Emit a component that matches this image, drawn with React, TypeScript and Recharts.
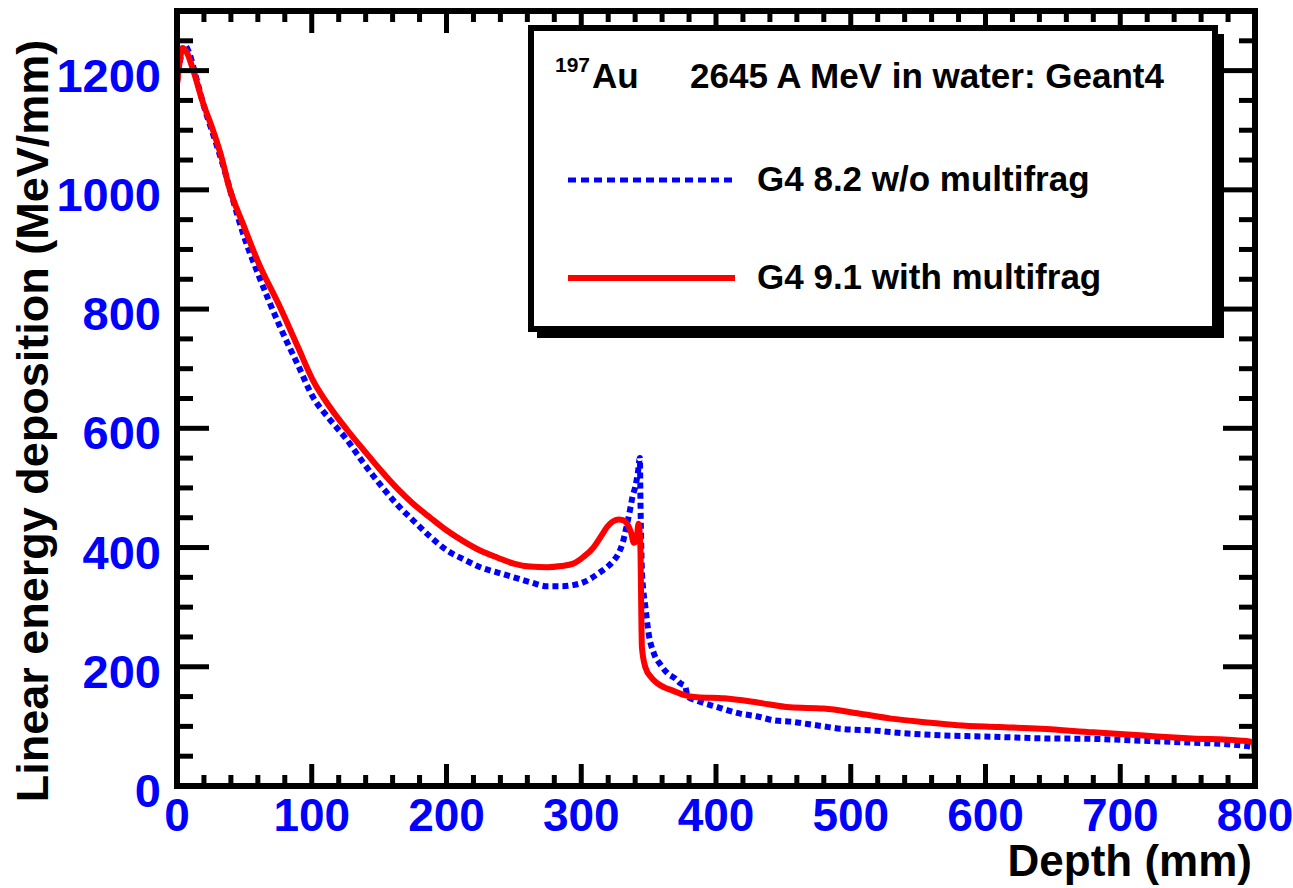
import { LineChart, Line, XAxis, YAxis } from "recharts";

const FONT = "'Liberation Sans', Arial, Helvetica, sans-serif";

const seriesNames = ["G4 8.2 w/o multifrag", "G4 9.1 with multifrag"];
const seriesColors = ["#0000ff", "#ff0000"];
const titleIon = "Au";
const titleMass = "197";
const titleText = "2645 A MeV in water: Geant4";
const xTitle = "Depth (mm)";
const yTitle = "Linear energy deposition (MeV/mm)";

// G4 8.2, no multifragmentation (blue dashed)
const depth82 = [
  0, 3, 6, 9, 14, 20, 28, 35, 40, 50, 60, 76.5, 90, 101, 113, 126, 138, 151,
  163, 175, 188, 200.5, 213, 225, 238, 250, 262, 275, 285, 294, 302, 307, 313,
  319, 324, 327.6, 331, 333, 336.5, 338, 340, 342, 343.5, 344, 345, 346, 347.6,
  350, 354, 359, 364, 370, 373.6, 377, 379, 386, 400, 418, 430, 443, 455, 468,
  480, 492.5, 517, 542, 567, 600, 641, 680, 715, 750, 790, 800,
];
const dose82 = [
  1180, 1225, 1242, 1230, 1190, 1140, 1085, 1035, 995, 920, 860, 770, 705, 652,
  616, 581, 543, 505, 473, 446, 418, 395, 380, 367, 358, 350, 342, 335, 335,
  337, 342, 348, 357, 367, 378, 390, 410, 429, 467, 485, 501, 525, 550, 470,
  362, 330, 300, 256, 222, 203, 189, 180, 172, 168, 150, 143, 133, 121.5, 117,
  110, 108, 104, 100, 96, 93, 88, 85, 83, 80, 79, 76, 73, 68, 65,
];

// G4 9.1, with multifragmentation (red solid)
const depth91 = [
  0, 2, 4, 7, 12, 19, 27, 33, 38, 50, 60, 76.5, 90, 101, 113, 126, 138, 151,
  163, 175, 188, 200, 213, 225, 238, 250, 262, 275, 285, 294, 302, 309, 315,
  319, 323, 327.6, 331, 334, 337, 339, 341, 342.5, 343.5, 344, 344.5, 345,
  347.6, 352, 356.5, 362, 368, 376, 386, 406, 431, 455, 480, 505, 530, 555, 579,
  610, 641, 680, 715, 750, 790, 799, 800,
];
const dose91 = [
  1176, 1215, 1238, 1232, 1201, 1148, 1098, 1055, 1010, 937, 880, 803, 735,
  680, 637, 598, 565, 530, 500, 474, 450, 429, 410, 395, 383, 373, 368, 367,
  369, 373, 385, 400, 420, 434, 443, 447, 446, 440, 425, 408, 412, 440, 420,
  390, 300, 233, 199, 182, 172, 165, 160, 153, 149, 147, 140, 132, 130, 122,
  113, 107, 102, 99, 96, 90, 85, 80, 76, 73, 46,
];

const xLabelTicks = [0, 100, 200, 300, 400, 500, 600, 700, 800];
const yLabelTicks = [0, 200, 400, 600, 800, 1000, 1200];
const xMinorStep = 20;
const yMinorStep = 50;
const xMax = 800;
const yMax = 1300;

const xTicks = Array.from({ length: xMax / xMinorStep + 1 }, (_, i) => i * xMinorStep);
const yTicks = Array.from({ length: yMax / yMinorStep + 1 }, (_, i) => i * yMinorStep);

const toPoints = (xs: number[], ys: number[]) =>
  xs.map((x, i) => ({ depth: x, dose: ys[i] }));

const data82 = toPoints(depth82, dose82);
const data91 = toPoints(depth91, dose91);

const TICK_W = 5;
const isXMajor = (v: number) => xLabelTicks.includes(v);
const isYMajor = (v: number) => yLabelTicks.includes(v);

const BottomTick = ({ x, y, payload }: any) => {
  const major = isXMajor(payload.value);
  return (
    <g>
      <line x1={x} x2={x} y1={y} y2={y - (major ? 22 : 11)} stroke="#000" strokeWidth={TICK_W} />
      {major && (
        <text x={x} y={y + 45} textAnchor="middle" fill="#0000ff" fontSize={46} fontWeight="bold" fontFamily={FONT}>
          {payload.value}
        </text>
      )}
    </g>
  );
};

// top axis has height 1, so its line sits at y + 1
const TopTick = ({ x, y, payload }: any) => {
  const major = isXMajor(payload.value);
  return <line x1={x} x2={x} y1={y} y2={y + (major ? 22 : 11)} stroke="#000" strokeWidth={TICK_W} />;
};

const LeftTick = ({ x, y, payload }: any) => {
  const major = isYMajor(payload.value);
  return (
    <g>
      <line x1={x} x2={x + (major ? 32 : 16)} y1={y} y2={y} stroke="#000" strokeWidth={TICK_W} />
      {major && (
        <text x={x - 16} y={y + 21} textAnchor="end" fill="#0000ff" fontSize={47} fontWeight="bold" fontFamily={FONT}>
          {payload.value}
        </text>
      )}
    </g>
  );
};

const RightTick = ({ x, y, payload }: any) => {
  const major = isYMajor(payload.value);
  return <line x1={x} x2={x - (major ? 32 : 16)} y1={y} y2={y} stroke="#000" strokeWidth={TICK_W} />;
};

const frame = { stroke: "#000", strokeWidth: 6, strokeLinecap: "square" as const };

export default function App() {
  return (
    <div style={{ position: "absolute", left: 0, top: 0, width: 1293, height: 888, background: "#fff" }}>
      <LineChart width={1293} height={888} margin={{ top: 10, right: 37, bottom: 42, left: 77 }}>
        <XAxis
          dataKey="depth"
          type="number"
          domain={[0, xMax]}
          ticks={xTicks}
          interval={0}
          height={60}
          tickSize={0}
          tickMargin={0}
          tickLine={false}
          axisLine={frame}
          tick={<BottomTick />}
          allowDataOverflow
        />
        <XAxis
          xAxisId="top"
          orientation="top"
          dataKey="depth"
          type="number"
          domain={[0, xMax]}
          ticks={xTicks}
          interval={0}
          height={1}
          tickSize={0}
          tickMargin={0}
          tickLine={false}
          axisLine={frame}
          tick={<TopTick />}
          allowDataOverflow
        />
        <YAxis
          type="number"
          domain={[0, yMax]}
          ticks={yTicks}
          interval={0}
          width={100}
          tickSize={0}
          tickMargin={0}
          tickLine={false}
          axisLine={frame}
          tick={<LeftTick />}
          allowDataOverflow
        />
        <YAxis
          yAxisId="right"
          orientation="right"
          type="number"
          domain={[0, yMax]}
          ticks={yTicks}
          interval={0}
          width={1}
          tickSize={0}
          tickMargin={0}
          tickLine={false}
          axisLine={frame}
          tick={<RightTick />}
          allowDataOverflow
        />
        {/* blue series is tied to the mirrored top/right axes (same domains) so they get drawn */}
        <Line
          data={data82}
          xAxisId="top"
          yAxisId="right"
          dataKey="dose"
          name={seriesNames[0]}
          type="monotone"
          stroke={seriesColors[0]}
          strokeWidth={6}
          strokeDasharray="6 4"
          dot={false}
          isAnimationActive={false}
        />
        <Line
          data={data91}
          dataKey="dose"
          name={seriesNames[1]}
          type="monotone"
          stroke={seriesColors[1]}
          strokeWidth={6}
          dot={false}
          isAnimationActive={false}
        />
      </LineChart>
      <svg
        width={1293}
        height={888}
        style={{ position: "absolute", left: 0, top: 0, pointerEvents: "none" }}
        fontFamily={FONT}
        fontWeight="bold"
      >
        <rect x={537} y={34} width={687} height={304} fill="#000" />
        <rect x={531} y={28} width={684} height={301} fill="#fff" stroke="#000" strokeWidth={6} />
        <text x={555} y={72} fontSize={21}>{titleMass}</text>
        <text x={592} y={88} fontSize={35}>{titleIon}</text>
        <text x={690} y={88} fontSize={35}>{titleText}</text>
        <line x1={568} x2={735} y1={180} y2={180} stroke={seriesColors[0]} strokeWidth={5} strokeDasharray="8 5" />
        <text x={757} y={191} fontSize={35}>{seriesNames[0]}</text>
        <line x1={568} x2={735} y1={278} y2={278} stroke={seriesColors[1]} strokeWidth={6} />
        <text x={757} y={289} fontSize={35}>{seriesNames[1]}</text>
        <text x={1252} y={876} textAnchor="end" fontSize={44}>{xTitle}</text>
        <text x={48} y={421} textAnchor="middle" fontSize={45} transform="rotate(-90 48 421)">
          {yTitle}
        </text>
      </svg>
    </div>
  );
}
